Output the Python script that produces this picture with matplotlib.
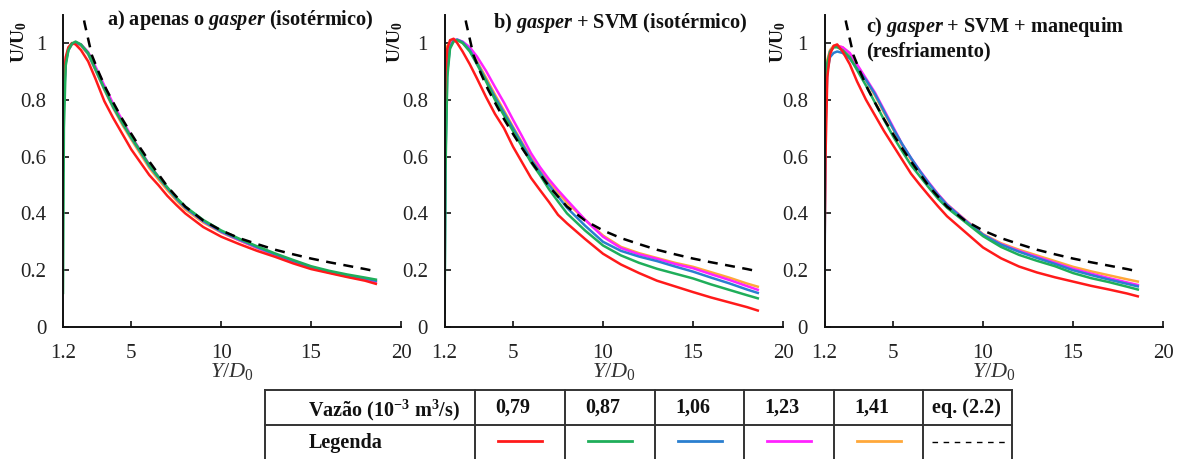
import matplotlib
matplotlib.use("Agg")
import matplotlib.pyplot as plt
from matplotlib.lines import Line2D

plt.rcParams['font.family'] = ['Liberation Serif', 'DejaVu Serif']
plt.rcParams['mathtext.fontset'] = 'custom'
plt.rcParams['mathtext.rm'] = 'Liberation Serif'
plt.rcParams['mathtext.it'] = 'Liberation Serif:italic'
plt.rcParams['mathtext.bf'] = 'Liberation Serif:bold'
plt.rcParams['mathtext.bfit'] = 'Liberation Serif:italic:bold'

# ---- data -----------------------------------------------------------------
y_d0 = [1.2, 1.25, 1.35, 1.5, 1.7, 1.9, 2.2, 2.6, 3.0, 3.5, 4.0, 4.5, 5.0, 5.5,
        6.0, 6.5, 7.0, 7.5, 8.0, 9.0, 10.0, 11.0, 12.0, 13.0, 14.0, 15.0,
        16.0, 17.0, 18.0, 18.6]

# a) gasper only (isothermal)
red_a = [0.62, 0.85, 0.95, 0.985, 1.0, 0.995, 0.975, 0.935, 0.875, 0.795, 0.735, 0.68, 0.625, 0.58,
         0.535, 0.5, 0.462, 0.43, 0.4, 0.352, 0.318, 0.292, 0.268, 0.247, 0.224, 0.204,
         0.19, 0.176, 0.163, 0.152]
green_a = [0.12, 0.7, 0.92, 0.975, 0.998, 1.005, 0.995, 0.965, 0.91, 0.84, 0.775, 0.72, 0.668, 0.62,
           0.57, 0.53, 0.492, 0.456, 0.424, 0.377, 0.34, 0.311, 0.284, 0.259, 0.236, 0.214,
           0.198, 0.185, 0.174, 0.167]
blue_a = [0.55, 0.8, 0.93, 0.975, 0.997, 1.003, 0.993, 0.962, 0.907, 0.838, 0.773, 0.718, 0.665, 0.617,
          0.566, 0.527, 0.489, 0.452, 0.42, 0.373, 0.336, 0.308, 0.281, 0.256, 0.233, 0.211,
          0.195, 0.182, 0.171, 0.163]
magenta_a = [0.58, 0.82, 0.94, 0.98, 0.998, 1.0, 0.995, 0.968, 0.918, 0.85, 0.785, 0.728, 0.672, 0.622,
             0.572, 0.53, 0.49, 0.453, 0.42, 0.372, 0.335, 0.306, 0.279, 0.254, 0.231, 0.209,
             0.193, 0.18, 0.168, 0.16]
orange_a = [0.6, 0.83, 0.94, 0.975, 0.995, 1.0, 0.99, 0.96, 0.905, 0.835, 0.77, 0.712, 0.66, 0.61,
            0.56, 0.52, 0.482, 0.446, 0.414, 0.368, 0.333, 0.305, 0.278, 0.253, 0.23, 0.208,
            0.192, 0.178, 0.166, 0.157]

# b) gasper + SVM (isothermal)
red_b = [0.76, 0.9, 0.98, 1.01, 1.015, 1.0, 0.97, 0.925, 0.875, 0.81, 0.75, 0.7, 0.635, 0.58,
         0.525, 0.482, 0.44, 0.395, 0.365, 0.31, 0.258, 0.22, 0.19, 0.163, 0.143, 0.123,
         0.104, 0.087, 0.07, 0.058]
green_b = [0.05, 0.55, 0.88, 0.98, 1.005, 1.01, 1.0, 0.97, 0.925, 0.865, 0.8, 0.745, 0.69, 0.635,
           0.58, 0.535, 0.485, 0.442, 0.4, 0.34, 0.287, 0.252, 0.226, 0.205, 0.188, 0.171,
           0.15, 0.131, 0.112, 0.101]
blue_b = [0.1, 0.6, 0.9, 0.985, 1.008, 1.012, 1.003, 0.975, 0.93, 0.87, 0.81, 0.755, 0.7, 0.645,
          0.59, 0.545, 0.5, 0.46, 0.42, 0.357, 0.3, 0.268, 0.248, 0.232, 0.213, 0.195,
          0.174, 0.154, 0.132, 0.12]
magenta_b = [0.68, 0.85, 0.95, 0.99, 1.01, 1.012, 1.005, 0.985, 0.952, 0.902, 0.845, 0.79, 0.73, 0.672,
             0.612, 0.563, 0.52, 0.482, 0.447, 0.378, 0.318, 0.278, 0.256, 0.24, 0.222, 0.207,
             0.186, 0.166, 0.144, 0.131]
orange_b = [0.95, 0.97, 0.99, 1.0, 1.01, 1.01, 1.0, 0.978, 0.935, 0.878, 0.818, 0.762, 0.705, 0.65,
            0.598, 0.552, 0.51, 0.472, 0.438, 0.378, 0.322, 0.282, 0.26, 0.243, 0.226, 0.212,
            0.193, 0.174, 0.153, 0.142]

# c) gasper + SVM + manikin (cooling)
red_c = [0.27, 0.6, 0.88, 0.96, 0.99, 0.995, 0.97, 0.925, 0.865, 0.8, 0.745, 0.69, 0.64, 0.59,
         0.54, 0.5, 0.462, 0.425, 0.39, 0.335, 0.28, 0.242, 0.213, 0.192, 0.175, 0.16,
         0.145, 0.132, 0.118, 0.108]
green_c = [0.5, 0.8, 0.93, 0.97, 0.985, 0.985, 0.975, 0.95, 0.905, 0.85, 0.79, 0.73, 0.672, 0.62,
           0.57, 0.53, 0.49, 0.452, 0.42, 0.37, 0.32, 0.282, 0.254, 0.233, 0.214, 0.19,
           0.172, 0.158, 0.142, 0.132]
blue_c = [0.2, 0.7, 0.9, 0.95, 0.965, 0.97, 0.965, 0.945, 0.91, 0.87, 0.82, 0.76, 0.7, 0.645,
          0.595, 0.548, 0.505, 0.465, 0.43, 0.375, 0.325, 0.29, 0.265, 0.243, 0.222, 0.2,
          0.183, 0.167, 0.152, 0.143]
magenta_c = [0.35, 0.75, 0.92, 0.97, 0.985, 0.99, 0.985, 0.965, 0.925, 0.875, 0.825, 0.765, 0.705, 0.645,
             0.595, 0.55, 0.508, 0.468, 0.432, 0.377, 0.325, 0.292, 0.268, 0.247, 0.226, 0.205,
             0.188, 0.172, 0.157, 0.148]
orange_c = [0.55, 0.82, 0.94, 0.975, 0.99, 0.99, 0.985, 0.962, 0.92, 0.868, 0.815, 0.755, 0.698, 0.64,
            0.59, 0.546, 0.505, 0.467, 0.432, 0.378, 0.327, 0.295, 0.272, 0.252, 0.232, 0.212,
            0.196, 0.182, 0.168, 0.16]

# eq. (2.2)
y_eq = [2.2, 2.4, 2.8, 3.2, 3.6, 4.0, 4.5, 5.0, 5.5, 6.0, 7.0, 8.0, 9.0, 10.0, 11.0,
        12.0, 13.0, 14.0, 15.0, 16.0, 17.0, 18.0, 18.6]
u_eq = [1.14, 1.07, 0.958, 0.895, 0.838, 0.79, 0.732, 0.68, 0.63, 0.583, 0.495, 0.424, 0.375,
        0.34, 0.313, 0.292, 0.272, 0.256, 0.241, 0.228, 0.216, 0.204, 0.196]

flow_labels = ['0,79', '0,87', '1,06', '1,23', '1,41']
colors = ['#ff1a1a', '#1fae5a', '#2a7fcf', '#ff22ff', '#ffa83a']

panel_titles = [
    [r'a) apenas o $\mathbfit{gasper}$ (isotérmico)'],
    [r'b) $\mathbfit{gasper}$ + SVM (isotérmico)'],
    [r'c) $\mathbfit{gasper}$ + SVM + manequim', '(resfriamento)'],
]
panels = [
    [red_a, green_a, blue_a, magenta_a, orange_a],
    [red_b, green_b, blue_b, magenta_b, orange_b],
    [red_c, green_c, blue_c, magenta_c, orange_c],
]

# ---- figure -----------------------------------------------------------------
W, H = 1183, 459
fig = plt.figure(figsize=(W / 100, H / 100), dpi=100)


def fx(px):
    return px / W


def fy(py):
    return 1 - py / H


axes_px = [(63, 401), (444.6, 783), (824.6, 1163)]
title_pos = [(107, 20), (493, 23), (866, 27)]
ylabel_x = [19, 395, 778]
top_px, bottom_px = 14.6, 327

for i, (x0, x1) in enumerate(axes_px):
    ax = fig.add_axes([fx(x0), fy(bottom_px), fx(x1 - x0), fy(top_px) - fy(bottom_px)])
    series = panels[i]
    order = [4, 3, 2, 0, 1] if i == 0 else [4, 3, 2, 1, 0]
    for k in order:
        ax.plot(y_d0, series[k], color=colors[k], lw=1.8, solid_joinstyle='round', zorder=2)
    ax.plot(y_eq, u_eq, color='black', lw=1.8, ls=(0, (4, 3)), zorder=3)
    ax.set_xlim(1.2, 20)
    ax.set_ylim(0, 1.1)
    ax.set_xticks([1.2, 5, 10, 15, 20])
    ax.set_xticklabels(['1.2', '5', '10', '15', '20'])
    ax.set_yticks([0, 0.2, 0.4, 0.6, 0.8, 1.0])
    ax.set_yticklabels(['0', '0.2', '0.4', '0.6', '0.8', '1'])
    for side in ['top', 'right']:
        ax.spines[side].set_visible(False)
    for side in ['left', 'bottom']:
        ax.spines[side].set_linewidth(1.4)
        ax.spines[side].set_color('#111111')
    ax.tick_params(direction='in', length=4, width=1.2, labelsize=15, pad=12,
                   colors='#111111', labelcolor='#222222')
    ax.patch.set_visible(False)

    fig.text(fx((x0 + x1) / 2), fy(372), r'$Y/D_0$', ha='center', va='center',
             fontsize=16, color='#333333')
    fig.text(fx(ylabel_x[i]), fy(42), r'$\mathbf{U/U_0}$', rotation=90,
             ha='center', va='center', fontsize=14, color='#111111')

    tx, ty = title_pos[i]
    for j, line in enumerate(panel_titles[i]):
        fig.text(fx(tx), fy(ty + 24 * j), line, ha='left', va='center',
                 fontsize=14.6, fontweight='bold', color='#111111')

# ---- legend table -------------------------------------------------------------
col_x = [265, 475, 565, 655, 744, 834, 923, 1012]
row_y = [390, 425, 462]
line_kw = dict(color='#333333', lw=1.4, transform=fig.transFigure, clip_on=False)
for yy in row_y[:2]:
    fig.add_artist(Line2D([fx(col_x[0]), fx(col_x[-1])], [fy(yy), fy(yy)], **line_kw))
for xx in col_x:
    fig.add_artist(Line2D([fx(xx), fx(xx)], [fy(row_y[0]), fy(row_y[2])], **line_kw))

fig.text(fx(308), fy(410), r'Vazão (10$^{\mathbf{-3}}$ m$^{\mathbf{3}}$/s)', ha='left', va='center',
         fontsize=14.5, fontweight='bold', color='#111111')
fig.text(fx(309), fy(443), 'Legenda', ha='left', va='center',
         fontsize=14.5, fontweight='bold', color='#111111')
for k, lab in enumerate(flow_labels):
    cx = (col_x[k + 1] + col_x[k + 2]) / 2
    fig.text(fx(cx - 7), fy(408), lab, ha='center', va='center',
             fontsize=14.5, fontweight='bold', color='#111111')
    fig.add_artist(Line2D([fx(cx - 22), fx(cx + 22)], [fy(441), fy(441)],
                          color=colors[k], lw=2.0, transform=fig.transFigure))
cx = (col_x[6] + col_x[7]) / 2
fig.text(fx(cx - 1), fy(408), 'eq. (2.2)', ha='center', va='center',
         fontsize=14.5, fontweight='bold', color='#111111')
fig.add_artist(Line2D([fx(col_x[6] + 9), fx(col_x[7] - 5)], [fy(442), fy(442)],
                      color='black', lw=1.0, ls=(0, (4, 4)), transform=fig.transFigure))

fig.savefig('out.png', dpi=100)
